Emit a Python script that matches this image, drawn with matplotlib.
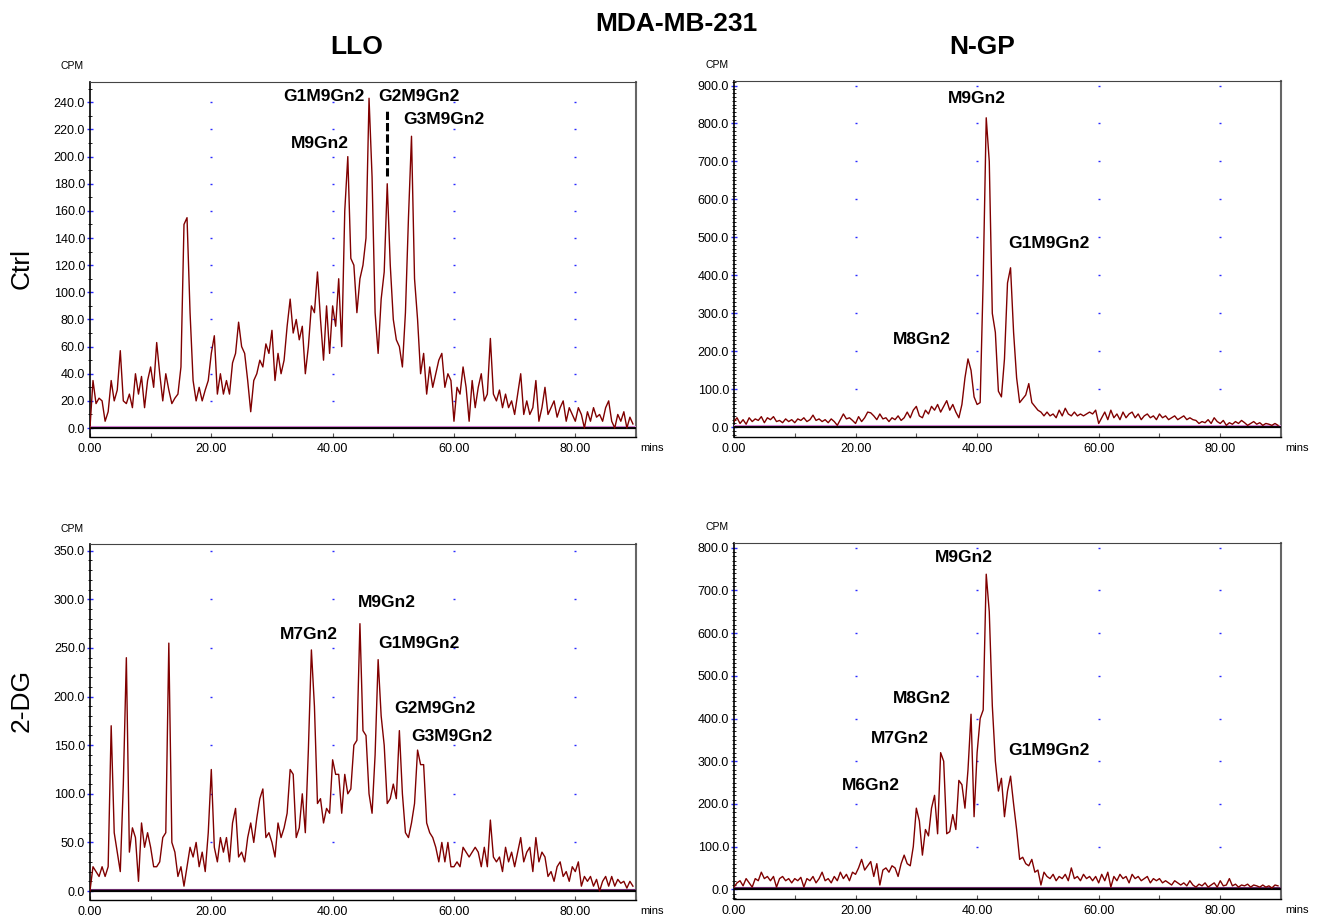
import numpy as np
import matplotlib
matplotlib.use("Agg")
import matplotlib.pyplot as plt
from matplotlib.ticker import MultipleLocator, FormatStrFormatter
from matplotlib.transforms import offset_copy

plt.rcParams["font.family"] = ["Liberation Sans", "DejaVu Sans"]

# retention time in minutes, one reading every 0.5 min
TIME_STEP = 0.5

# CPM readings, rows of 5 min
llo_ctrl = [
    0, 35, 18, 22, 20, 5, 12, 35, 20, 28,
    57, 20, 18, 25, 15, 40, 25, 38, 15, 35,
    45, 30, 63, 40, 20, 40, 28, 18, 22, 25,
    45, 150, 155, 85, 35, 20, 30, 20, 28, 35,
    55, 68, 25, 40, 25, 35, 25, 48, 55, 78,
    60, 55, 35, 12, 35, 40, 50, 45, 62, 55,
    72, 35, 55, 40, 50, 75, 95, 70, 80, 65,
    75, 40, 60, 90, 85, 115, 80, 50, 90, 55,
    90, 75, 110, 60, 160, 200, 125, 120, 85, 110,
    120, 140, 243, 185, 85, 55, 95, 115, 180, 120,
    80, 65, 60, 45, 85, 155, 215, 110, 80, 40,
    55, 25, 45, 30, 40, 50, 55, 30, 40, 35,
    5, 30, 25, 45, 30, 5, 35, 15, 30, 40,
    20, 25, 66, 25, 20, 28, 15, 25, 15, 20,
    10, 25, 40, 10, 20, 10, 15, 35, 5, 15,
    30, 10, 15, 20, 8, 15, 20, 5, 15, 10,
    5, 15, 10, 0, 12, 5, 15, 8, 10, 5,
    15, 20, 5, 0, 10, 5, 12, 0, 8, 3,
]

ngp_ctrl = [
    15, 25, 10, 20, 8, 25, 15, 22, 18, 28,
    12, 25, 20, 28, 15, 18, 12, 22, 15, 20,
    12, 22, 18, 25, 15, 20, 32, 18, 22, 15,
    20, 12, 22, 15, 5, 20, 35, 22, 25, 18,
    10, 28, 15, 25, 40, 38, 30, 20, 35, 22,
    25, 15, 25, 20, 30, 18, 25, 40, 25, 45,
    55, 30, 25, 45, 35, 55, 45, 60, 40, 55,
    70, 45, 60, 40, 25, 60, 130, 180, 150, 80,
    60, 65, 390, 815, 700, 300, 250, 95, 80, 180,
    380, 420, 250, 130, 65, 75, 85, 115, 65, 55,
    45, 40, 30, 40, 30, 35, 25, 45, 30, 50,
    35, 30, 40, 30, 35, 30, 35, 40, 35, 45,
    10, 25, 40, 20, 45, 25, 35, 20, 40, 25,
    35, 40, 25, 35, 20, 30, 35, 25, 30, 20,
    35, 25, 30, 20, 25, 30, 20, 25, 30, 20,
    25, 20, 18, 10, 15, 12, 20, 10, 25, 15,
    10, 18, 5, 12, 8, 15, 10, 18, 12, 5,
    10, 15, 8, 12, 5, 10, 8, 5, 10, 5,
]

llo_dg = [
    0, 25, 20, 15, 25, 15, 25, 170, 60, 40,
    20, 110, 240, 40, 65, 55, 10, 70, 45, 60,
    45, 25, 25, 30, 55, 60, 255, 50, 40, 15,
    25, 5, 25, 45, 35, 50, 25, 40, 20, 60,
    125, 45, 30, 55, 40, 55, 30, 70, 85, 35,
    40, 30, 55, 70, 50, 75, 95, 105, 55, 60,
    50, 35, 70, 55, 65, 80, 125, 120, 55, 65,
    100, 60, 145, 248, 190, 90, 95, 70, 85, 80,
    135, 120, 120, 80, 120, 100, 105, 150, 155, 275,
    165, 160, 100, 80, 140, 238, 180, 150, 90, 95,
    110, 95, 165, 100, 60, 55, 70, 90, 145, 130,
    130, 70, 60, 55, 45, 30, 50, 30, 50, 25,
    25, 30, 25, 45, 40, 35, 40, 45, 40, 25,
    45, 25, 73, 35, 30, 35, 20, 45, 30, 40,
    25, 40, 55, 30, 40, 45, 20, 55, 30, 40,
    35, 15, 20, 10, 25, 30, 15, 20, 10, 25,
    20, 30, 5, 15, 10, 15, 5, 12, 0, 10,
    15, 5, 15, 5, 12, 8, 10, 3, 10, 5,
]

ngp_dg = [
    5, 15, 20, 8, 25, 15, 5, 25, 20, 40,
    25, 30, 20, 30, 5, 25, 30, 20, 25, 15,
    25, 20, 28, 5, 25, 20, 30, 15, 25, 40,
    20, 25, 15, 30, 20, 40, 25, 35, 20, 40,
    35, 50, 70, 45, 55, 65, 30, 60, 10, 45,
    50, 40, 55, 50, 30, 60, 80, 60, 55, 100,
    190, 160, 80, 140, 125, 190, 220, 130, 320, 300,
    130, 135, 175, 140, 255, 245, 190, 280, 410, 170,
    320, 400, 420, 738, 650, 430, 300, 230, 260, 170,
    230, 265, 200, 140, 70, 75, 60, 55, 70, 40,
    45, 10, 40, 30, 25, 35, 20, 30, 25, 35,
    20, 50, 25, 30, 20, 35, 25, 30, 20, 30,
    15, 35, 20, 40, 5, 30, 20, 35, 25, 30,
    15, 35, 25, 30, 20, 25, 30, 15, 25, 20,
    25, 15, 20, 15, 10, 20, 15, 10, 15, 8,
    20, 10, 5, 12, 8, 15, 5, 10, 15, 5,
    20, 8, 10, 25, 8, 12, 5, 10, 8, 12,
    5, 10, 8, 5, 10, 5, 8, 3, 10, 8,
]

# peak labels: (text, minutes, CPM)
llo_ctrl_peaks = [("G1M9Gn2", 38.6, 244), ("G2M9Gn2", 54.3, 244),
                  ("G3M9Gn2", 58.4, 227), ("M9Gn2", 37.9, 210)]
ngp_ctrl_peaks = [("M9Gn2", 40.0, 865), ("G1M9Gn2", 51.8, 485), ("M8Gn2", 30.9, 232)]
llo_dg_peaks = [("M7Gn2", 36.1, 264), ("M9Gn2", 49.0, 297), ("G1M9Gn2", 54.3, 255),
                ("G2M9Gn2", 56.8, 188), ("G3M9Gn2", 59.6, 159)]
ngp_dg_peaks = [("M9Gn2", 37.8, 776), ("M8Gn2", 30.9, 446), ("M7Gn2", 27.3, 354),
                ("M6Gn2", 22.5, 242), ("G1M9Gn2", 51.8, 326)]


def draw_panel(fig, rect, values, ylim, major, peaks, base_color):
    ax = fig.add_axes(rect)
    t = np.arange(len(values)) * TIME_STEP
    ax.set_xlim(0, 90)
    ax.set_ylim(*ylim)

    # small blue marks at the major grid positions
    gx, gy = np.meshgrid([20, 40, 60, 80], np.arange(major, ylim[1], major))
    ax.plot(gx.ravel(), gy.ravel(), ls="none", marker="_", ms=2, mew=1,
            color="#2a2aff", zorder=1)

    ax.axhline(0, color="black", lw=1.6, zorder=3)
    shifted = offset_copy(ax.get_yaxis_transform(), fig=fig, y=2, units="dots")
    ax.plot([0, 1], [0, 0], transform=shifted, color=base_color, lw=0.8, zorder=3)
    ax.plot(t, values, color="#800000", lw=1.0, zorder=4)

    for text, x, y in peaks:
        ax.text(x, y, text, ha="center", va="center", fontsize=12.5, fontweight="bold")

    ax.yaxis.set_major_locator(MultipleLocator(major))
    ax.yaxis.set_minor_locator(MultipleLocator(10))
    ax.yaxis.set_major_formatter(FormatStrFormatter("%.1f"))
    ax.xaxis.set_major_locator(MultipleLocator(20))
    ax.xaxis.set_minor_locator(MultipleLocator(10))
    ax.xaxis.set_major_formatter(FormatStrFormatter("%.2f"))
    ax.tick_params(axis="y", which="major", direction="inout", length=5, width=1,
                   color="#2a2aff", labelsize=9, pad=1)
    ax.tick_params(axis="y", which="minor", direction="inout", length=3, width=0.6,
                   color="black")
    ax.tick_params(axis="x", which="both", direction="in", length=3, width=0.8,
                   color="#555555", labelsize=9, pad=4)

    ax.spines["left"].set_linewidth(1.2)
    ax.spines["bottom"].set_linewidth(1.0)
    ax.spines["top"].set_color("#444444")
    ax.spines["right"].set_color("#666666")
    ax.spines["right"].set_linewidth(1.5)

    ax.text(1.007, -0.031, "mins", transform=ax.transAxes, ha="left", va="center", fontsize=8)
    return ax


fig = plt.figure(figsize=(13.17, 9.19), dpi=100)

ax_tl = draw_panel(fig, [0.0683, 0.5245, 0.4146, 0.3863], llo_ctrl, (-6.6, 255), 20,
                   llo_ctrl_peaks, "#d080d0")
ax_tl.plot([49.0, 49.0], [185.5, 235], color="black", lw=2.2, dashes=(2.7, 1.0), zorder=5)
draw_panel(fig, [0.5573, 0.5245, 0.4154, 0.3874], ngp_ctrl, (-25.6, 912), 100,
           ngp_ctrl_peaks, "#d080d0")
draw_panel(fig, [0.0683, 0.0207, 0.4146, 0.3874], llo_dg, (-9.2, 357), 50,
           llo_dg_peaks, "#6a2a6a")
draw_panel(fig, [0.5573, 0.0218, 0.4154, 0.3873], ngp_dg, (-22.7, 811), 100,
           ngp_dg_peaks, "#6a2a6a")

fig.text(0.5133, 0.974, "MDA-MB-231", ha="center", va="center", fontsize=19, fontweight="bold")
fig.text(0.271, 0.949, "LLO", ha="center", va="center", fontsize=19, fontweight="bold")
fig.text(0.746, 0.949, "N-GP", ha="center", va="center", fontsize=19, fontweight="bold")
fig.text(0.0167, 0.708, "Ctrl", ha="center", va="center", fontsize=19, rotation=90)
fig.text(0.0167, 0.238, "2-DG", ha="center", va="center", fontsize=19, rotation=90)

for x, y in [(72, 66), (717, 65), (72, 529), (717, 527)]:
    fig.text(x / 1317, 1 - y / 919, "CPM", ha="center", va="center", fontsize=7.5)

fig.savefig("out.png", dpi=100)
